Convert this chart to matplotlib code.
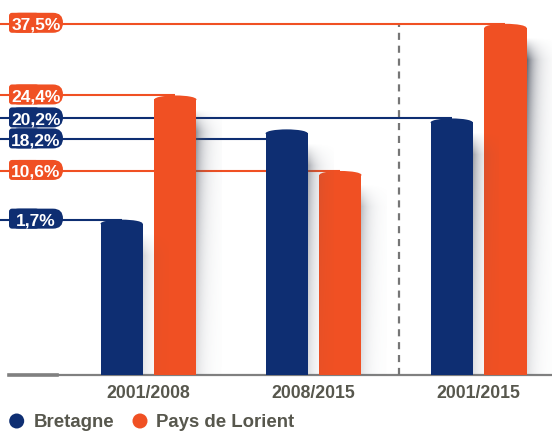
import numpy as np
import matplotlib.pyplot as plt
from matplotlib.patches import FancyBboxPatch, Ellipse, Circle

categories = ['2001/2008', '2008/2015', '2001/2015']
series_names = ['Bretagne', 'Pays de Lorient']
bretagne = [1.7, 18.2, 20.2]
lorient = [24.4, 10.6, 37.5]

BLUE = '#0e2e72'
ORANGE = '#f05023'
TXT = '#57574d'
BASE = '#808080'

plt.rcParams['font.family'] = ['Liberation Sans', 'DejaVu Sans']

W, H = 552, 432
fig = plt.figure(figsize=(W / 100, H / 100), dpi=100)

# main axes, the baseline sits 57 px above the bottom edge
ax = fig.add_axes([0, 57 / H, 1, 1 - 57 / H])
ax.axis('off')
ymin, ymax = -26.7, 41.85
xmin, xmax = -0.9, 2.445
ax.set_xlim(xmin, xmax)
ax.set_ylim(ymin, ymax)
ax.set_autoscale_on(False)

# overlay in pixel units for pills and legend
ov = fig.add_axes([0, 0, 1, 1], zorder=5)
ov.set_xlim(0, W)
ov.set_ylim(0, H)
ov.axis('off')

px_x = W / (xmax - xmin)
px_y = (H - 57) / (ymax - ymin)

x = np.arange(len(categories))
width = 0.255
offset = 0.163
cap = 8 / px_y


def shadow(xc, v):
    # soft grey shadow on the right side of a bar
    top = v - 14 / px_y
    h_px = (top - ymin) * px_y
    nx, ny = 40, 200
    dx = np.linspace(0, 26, nx)
    depth = h_px - np.linspace(0, h_px, ny)  # row 0 = bottom
    hx = np.exp(-dx / 8)
    hy = np.clip(depth / 22, 0, 1) * np.exp(-np.clip(depth - 22, 0, None) / 200)
    strength = 0.9 * ((v - ymin) / (max(lorient) - ymin)) ** 1.5
    arr = np.zeros((ny, nx, 4))
    arr[..., 0] = 0.33
    arr[..., 1] = 0.35
    arr[..., 2] = 0.40
    arr[..., 3] = strength * hy[:, None] * hx[None, :]
    x0 = xc + width / 2
    ax.imshow(arr, extent=[x0, x0 + 26 / px_x, ymin, top], origin='lower',
              aspect='auto', interpolation='bilinear', zorder=5)


bar_list = []
for xs, vals, col in [(x - offset, bretagne, BLUE), (x + offset, lorient, ORANGE)]:
    vals = np.array(vals)
    ax.bar(xs, vals - cap / 2 - ymin, width, bottom=ymin, color=col,
           linewidth=0, zorder=4)
    for xc, v in zip(xs, vals):
        ax.add_patch(Ellipse((xc, v - cap / 2), width, cap, color=col, lw=0, zorder=4))
        shadow(xc, v)
        bar_list.append((xc, v, col))

# baseline and separator
ax.axhline(ymin, xmin=9 / W, color=BASE, lw=1.6, zorder=2, clip_on=False)
ax.axhline(ymin, xmin=9 / W, xmax=57 / W, color=BASE, lw=2.6, zorder=2, clip_on=False)
ax.vlines((x[1] + x[2]) / 2 + 0.018, ymin, max(lorient), color='#767676', lw=1.6,
          linestyle=(0, (3.2, 2.6)), zorder=2)

# pill labels on the left, pushed apart when they would overlap
to_ov = ov.transData.inverted()
labels = []
for xc, v, col in bar_list:
    py = to_ov.transform(ax.transData.transform((0, v)))[1]
    labels.append([py, xc, v, col])
labels.sort(key=lambda r: -r[0])
gap = 21
for i in range(1, len(labels)):
    if labels[i - 1][0] - labels[i][0] < gap:
        labels[i][0] = labels[i - 1][0] - gap

to_ax = ax.transData.inverted()
for py, xc, v, col in labels:
    yl = to_ax.transform(ov.transData.transform((0, py)))[1]
    ax.hlines(yl, xmin, xc, color=col, lw=1.5, zorder=3)
    ov.add_patch(FancyBboxPatch((9, py - 9), 54, 20,
                                boxstyle='round,pad=0,rounding_size=10',
                                fc=col, lw=0))
    ov.add_patch(FancyBboxPatch((9, py - 9), 30, 20,
                                boxstyle='round,pad=0,rounding_size=3',
                                fc=col, lw=0))
    txt = ('%.1f' % v).replace('.', ',') + '%'
    ov.text(36, py - 5.8, txt, color='white', fontsize=12.5, fontweight='bold',
            ha='center', va='baseline')

# category labels
for i, cat in enumerate(categories):
    ax.annotate(cat, (x[i], ymin), xytext=(0, -23.3 * 0.72), textcoords='offset points',
                ha='center', va='baseline', fontsize=12.7, fontweight='bold',
                color=TXT, annotation_clip=False)

# legend
for cx, tx, name, col in [(16.7, 34, series_names[0], BLUE),
                          (140, 156, series_names[1], ORANGE)]:
    ov.add_patch(Circle((cx, 11), 7.5, fc=col, lw=0))
    ov.text(tx, 4.7, name, fontsize=13.4, fontweight='bold', color=TXT,
            ha='left', va='baseline')

fig.savefig('out.png', dpi=100)
